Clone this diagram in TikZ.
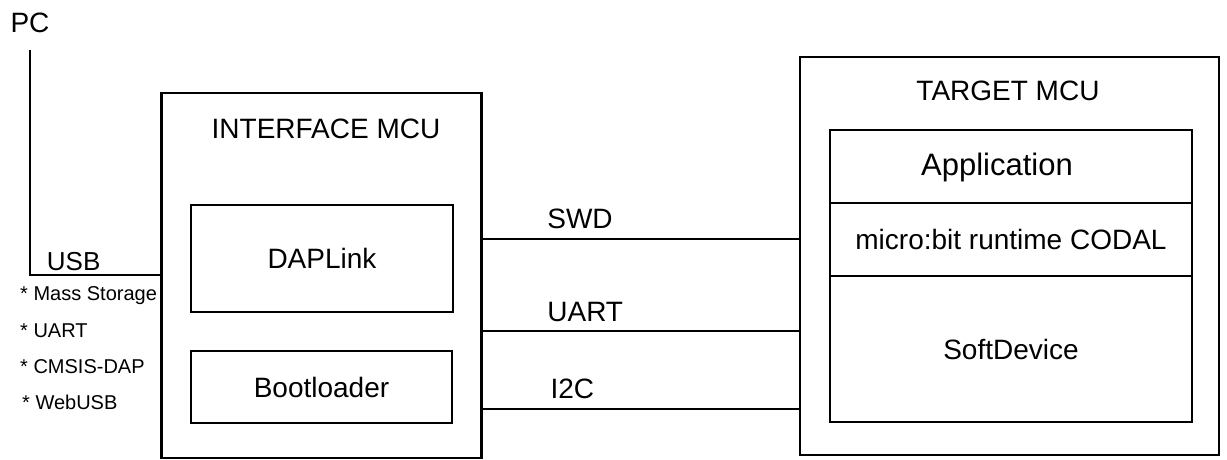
\documentclass[tikz,border=0pt]{standalone}
\usepackage{fontspec}
\setmainfont{Liberation Sans}
\usetikzlibrary{positioning}

\tikzset{
  blk/.style={draw,line width=2.5pt,rectangle,inner sep=0pt,font=\fontsize{28}{32}\selectfont},
  lbl/.style={inner sep=0pt,font=\fontsize{28}{32}\selectfont},
  small/.style={inner sep=0pt,anchor=base west,font=\fontsize{20}{24}\selectfont},
  wire/.style={line width=2.5pt}
}

\begin{document}
\begin{tikzpicture}[x=1pt,y=-1pt]
\useasboundingbox (0,0) rectangle (1227,460);

% interface mcu
\node[blk,minimum width=320pt,minimum height=365pt] (iface) at (321.7,275.5) {};
\node[lbl,anchor=base] (ifacename) at (326,138) {INTERFACE MCU};
\node[blk,minimum width=262pt,minimum height=107pt] (daplink) at (322,258.5) {DAPLink};
\node[blk,minimum width=261pt,minimum height=72pt] (boot) at (321.5,387) {Bootloader};

% target mcu
\node[blk,minimum width=419pt,minimum height=398pt] (target) at (1009.5,256) {};
\node[lbl,anchor=base] (targetname) at (1008,100.5) {TARGET MCU};
\node[blk,minimum width=362pt,minimum height=73pt] (app) at (1011,166.5) {};
\node[lbl,anchor=base,font=\fontsize{31}{35}\selectfont] (appname) at (997,175) {Application};
\node[blk,minimum width=362pt,minimum height=73pt] (codal) at (1011,239.5) {micro:bit runtime CODAL};
\node[blk,minimum width=362pt,minimum height=146pt] (softdev) at (1011,349) {SoftDevice};

% pc and usb
\node[lbl,anchor=base] (pc) at (30,33) {PC};
\coordinate (usb) at (0,275);
\draw[wire,shorten <=17pt] (pc.south) -- (pc.south |- usb)
  -- node[pos=0.12,anchor=base west,yshift=5pt,inner sep=0pt,font=\fontsize{26}{30}\selectfont] (usbname) {USB} (iface.west |- usb);
\node[small] (msc) at (20,300) {* Mass Storage};
\node[small] (uartfn) at (20,337.5) {* UART};
\node[small] (dap) at (20,373) {* CMSIS-DAP};
\node[small] (webusb) at (22,409.5) {* WebUSB};

% links
\coordinate (swd) at (0,239);
\coordinate (uart) at (0,331);
\coordinate (i2c) at (0,409);
\draw[wire] (iface.east |- swd) -- node[lbl,pos=0.2,anchor=base west,yshift=11pt] (swdname) {SWD} (target.west |- swd);
\draw[wire] (iface.east |- uart) -- node[lbl,pos=0.2,anchor=base west,yshift=10pt] (uartname) {UART} (target.west |- uart);
\draw[wire] (iface.east |- i2c) -- node[lbl,pos=0.21,anchor=base west,yshift=11pt] (i2cname) {I2C} (target.west |- i2c);
\end{tikzpicture}
\end{document}
